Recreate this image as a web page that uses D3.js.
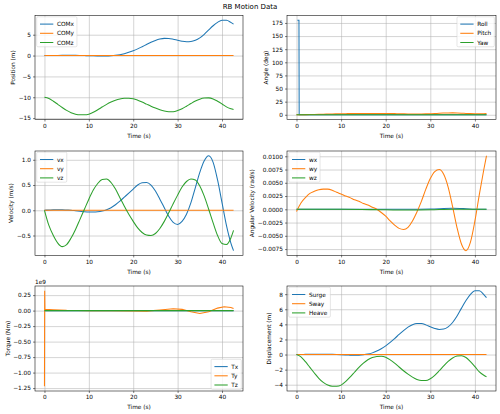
<!DOCTYPE html>
<html>
<head>
<meta charset="utf-8">
<script src="https://cdn.jsdelivr.net/npm/d3@7"></script>
<style>
  body { margin: 0; background: #fff; }
  svg { display: block; font-family: "DejaVu Sans", sans-serif; }
</style>
</head>
<body>
<div id="chart"></div>
<script>
// time samples (s)
const time = [0,1,2,3,4,5,6,7,8,9,10,11,12,13,14,15,16,17,18,19,20,21,22,23,24,25,26,27,28,29,30,31,32,33,34,35,36,37,38,39,40,41,42,42.6];
const tFlat = [0, 42.6];
const flat = [0, 0];
const xTicks = [0, 10, 20, 30, 40];

// Position (m)
const comX = [0,0.01,0.02,0.03,0.04,0.05,0.05,0.04,0.02,0,-0.03,-0.06,-0.08,-0.09,-0.08,-0.03,0.06,0.22,0.46,0.77,1.15,1.6,2.12,2.66,3.18,3.63,3.96,4.12,4.1,3.93,3.68,3.45,3.33,3.38,3.67,4.25,5.1,6.15,7.15,7.97,8.45,8.45,7.95,7.55];
const comZ = [-10,-10.3,-10.95,-11.7,-12.45,-13.15,-13.7,-14.05,-14.2,-14.2,-14.05,-13.6,-13.0,-12.35,-11.7,-11.15,-10.7,-10.4,-10.25,-10.22,-10.35,-10.7,-11.15,-11.65,-12.15,-12.6,-13.0,-13.3,-13.45,-13.45,-13.2,-12.75,-12.15,-11.5,-10.9,-10.45,-10.2,-10.15,-10.4,-10.95,-11.6,-12.3,-12.75,-12.95];
const positionTicks = [-15, -10, -5, 0, 5];

// Angle (deg)
const rollTime = [0.2, 0.55, 0.6, 42.6];
const roll = [180, 180, 0, 0];
const pitch = [0,0.1,0.3,0.5,0.7,0.9,1.1,1.4,1.6,1.8,1.95,2.1,2.2,2.35,2.45,2.5,2.55,2.6,2.6,2.55,2.5,2.4,2.2,2.0,1.8,1.6,1.5,1.45,1.5,1.7,2.0,2.4,2.85,3.25,3.5,3.6,3.45,3.1,2.6,2.2,1.95,1.9,2.1,2.3];
const angleTicks = [0, 25, 50, 75, 100, 125, 150, 175];

// Velocity (m/s)
const vx = [0,0.005,0.01,0.012,0.01,0.005,0,-0.01,-0.02,-0.03,-0.035,-0.035,-0.03,-0.015,0.01,0.05,0.11,0.18,0.26,0.34,0.42,0.5,0.545,0.55,0.5,0.38,0.22,0.05,-0.12,-0.24,-0.28,-0.22,-0.08,0.15,0.45,0.75,0.98,1.08,0.95,0.6,0.15,-0.3,-0.65,-0.8];
const vz = [0,-0.3,-0.5,-0.65,-0.72,-0.68,-0.55,-0.38,-0.18,0.02,0.22,0.4,0.53,0.61,0.62,0.55,0.42,0.25,0.08,-0.08,-0.22,-0.35,-0.44,-0.49,-0.5,-0.46,-0.36,-0.22,-0.05,0.13,0.3,0.46,0.57,0.62,0.6,0.48,0.28,0.02,-0.25,-0.5,-0.66,-0.68,-0.55,-0.4];
const velocityTicks = [-0.5, 0, 0.5, 1.0];

// Angular velocity (rad/s)
const wxTime = [0, 25, 30, 35, 38, 40, 42.6];
const wx = [0, 0, 0.00005, 0.0002, 0.0001, 0, 0];
const wy = [-0.0004,0.0012,0.0022,0.003,0.0034,0.0037,0.0038,0.0038,0.0036,0.0032,0.0029,0.0025,0.0022,0.0018,0.0015,0.0011,0.0008,0.0004,0,-0.0006,-0.0013,-0.0022,-0.003,-0.0036,-0.0038,-0.0034,-0.0022,-0.0005,0.0015,0.0038,0.0058,0.0071,0.0075,0.0066,0.0042,0.0005,-0.0035,-0.0066,-0.0078,-0.0062,-0.0022,0.0028,0.0075,0.0101];
const wzTime = [0, 10, 20, 25, 30, 35, 42.6];
const wz = [0, 0, -0.0001, -0.00015, -0.0001, 0, 0];
const angVelTicks = [-0.0075, -0.005, -0.0025, 0, 0.0025, 0.005, 0.0075, 0.01];

// Torque (Nm)
const tyTime = [0, 0.05, 0.1, 2, 5, 10, 15, 20, 23, 26, 29, 31, 33, 35, 37, 39, 40.5, 42, 42.6];
const ty = [-1.22e9, 0.32e9, 0.02e9, 0.015e9, 0.005e9, 0, -0.002e9, -0.005e9, -0.008e9, 0.01e9, 0.03e9, 0.02e9, -0.02e9, -0.045e9, -0.02e9, 0.04e9, 0.062e9, 0.05e9, 0.035e9];
const torqueTicks = [-1.25e9, -1e9, -0.75e9, -0.5e9, -0.25e9, 0, 0.25e9];

// Displacement (m)
const surge = [0,0.01,0.02,0.03,0.04,0.05,0.05,0.04,0.02,0,-0.03,-0.06,-0.08,-0.09,-0.08,-0.03,0.06,0.22,0.46,0.77,1.15,1.6,2.12,2.66,3.18,3.63,3.96,4.12,4.1,3.93,3.68,3.45,3.33,3.38,3.67,4.25,5.1,6.15,7.15,7.97,8.45,8.45,7.95,7.55];
const heave = [0,-0.3,-0.95,-1.7,-2.45,-3.15,-3.7,-4.05,-4.2,-4.2,-4.05,-3.6,-3.0,-2.35,-1.7,-1.15,-0.7,-0.4,-0.25,-0.22,-0.35,-0.7,-1.15,-1.65,-2.15,-2.6,-3.0,-3.3,-3.45,-3.45,-3.2,-2.75,-2.15,-1.5,-0.9,-0.45,-0.2,-0.15,-0.4,-0.95,-1.6,-2.3,-2.75,-2.95];
const dispTicks = [-4, -2, 0, 2, 4, 6, 8];

const colors = ["#1f77b4", "#ff7f0e", "#2ca02c"];
const fontSize = 5.8;

const W = 500, H = 414;
const cols = [{ x0: 35, x1: 243 }, { x0: 287, x1: 496 }];
const rows = [{ y0: 15.6, y1: 119.5 }, { y0: 151, y1: 255.4 }, { y0: 286, y1: 391 }];

const svg = d3.select("#chart").append("svg")
  .attr("width", W)
  .attr("height", H)
  .attr("viewBox", `0 0 ${W} ${H}`);

svg.append("text")
  .attr("x", 250).attr("y", 8.6)
  .attr("text-anchor", "middle")
  .attr("font-size", 7)
  .attr("fill", "#000")
  .text("RB Motion Data");

const zip = (xs, ys) => xs.map((x, i) => [x, ys[i]]);

const panels = [
  { col: 0, row: 0, label: "Position (m)", ticks: positionTicks, fmt: d3.format("d"), legend: "ul",
    series: [["COMx", time, comX], ["COMy", tFlat, flat], ["COMz", time, comZ]] },
  { col: 1, row: 0, label: "Angle (deg)", ticks: angleTicks, fmt: d3.format("d"), legend: "ur",
    series: [["Roll", rollTime, roll, true], ["Pitch", time, pitch], ["Yaw", tFlat, flat]] },
  { col: 0, row: 1, label: "Velocity (m/s)", ticks: velocityTicks, fmt: d3.format(".1f"), legend: "ul",
    series: [["vx", time, vx], ["vy", tFlat, flat], ["vz", time, vz]] },
  { col: 1, row: 1, label: "Angular Velocity (rad/s)", ticks: angVelTicks, fmt: d3.format(".4f"), legend: "ul",
    series: [["wx", wxTime, wx], ["wy", time, wy], ["wz", wzTime, wz]] },
  { col: 0, row: 2, label: "Torque (Nm)", ticks: torqueTicks, fmt: d => d3.format(".2f")(d / 1e9), legend: "lr", offset: "1e9",
    series: [["Tx", tFlat, flat], ["Ty", tyTime, ty, true], ["Tz", tFlat, flat]] },
  { col: 1, row: 2, label: "Displacement (m)", ticks: dispTicks, fmt: d3.format("d"), legend: "ul",
    series: [["Surge", time, surge], ["Sway", tFlat, flat], ["Heave", time, heave]] }
];

panels.forEach((p, idx) => {
  const { x0, x1 } = cols[p.col];
  const { y0, y1 } = rows[p.row];
  const w = x1 - x0, h = y1 - y0;

  // matplotlib style 5% margins
  const allX = p.series.flatMap(s => s[1]);
  const allY = p.series.flatMap(s => s[2]);
  const [xa, xb] = d3.extent(allX);
  const [ya, yb] = d3.extent(allY);
  const x = d3.scaleLinear().domain([xa - 0.05 * (xb - xa), xb + 0.05 * (xb - xa)]).range([0, w]);
  const y = d3.scaleLinear().domain([ya - 0.05 * (yb - ya), yb + 0.05 * (yb - ya)]).range([h, 0]);

  const g = svg.append("g").attr("transform", `translate(${x0},${y0})`);

  // grid
  const gx = g.append("g").attr("transform", `translate(0,${h})`)
    .call(d3.axisBottom(x).tickValues(xTicks).tickSize(-h).tickFormat(""));
  const gy = g.append("g")
    .call(d3.axisLeft(y).tickValues(p.ticks).tickSize(-w).tickFormat(""));
  [gx, gy].forEach(a => {
    a.select(".domain").remove();
    a.selectAll("line").attr("stroke", "#b0b0b0").attr("stroke-width", 0.55);
  });

  // lines
  const clipId = "clip" + idx;
  g.append("clipPath").attr("id", clipId)
    .append("rect").attr("width", w).attr("height", h);
  const plot = g.append("g").attr("clip-path", `url(#${clipId})`);
  p.series.forEach((s, i) => {
    const line = d3.line()
      .x(d => x(d[0]))
      .y(d => y(d[1]))
      .curve(s[3] ? d3.curveLinear : d3.curveMonotoneX);
    plot.append("path")
      .datum(zip(s[1], s[2]))
      .attr("d", line)
      .attr("fill", "none")
      .attr("stroke", colors[i])
      .attr("stroke-width", 1.05);
  });

  // axes
  const ax = g.append("g").attr("transform", `translate(0,${h})`)
    .call(d3.axisBottom(x).tickValues(xTicks).tickSize(2).tickPadding(2.2).tickFormat(d3.format("d")));
  const ay = g.append("g")
    .call(d3.axisLeft(y).tickValues(p.ticks).tickSize(2).tickPadding(2).tickFormat(p.fmt));
  [ax, ay].forEach(a => {
    a.select(".domain").remove();
    a.selectAll("line").attr("stroke", "#000").attr("stroke-width", 0.5);
    a.selectAll("text").attr("font-size", fontSize).attr("font-family", "DejaVu Sans").attr("fill", "#000");
  });

  g.append("rect")
    .attr("width", w).attr("height", h)
    .attr("fill", "none")
    .attr("stroke", "#000")
    .attr("stroke-width", 0.55);

  // axis labels
  g.append("text")
    .attr("x", w / 2).attr("y", h + 18.2)
    .attr("text-anchor", "middle")
    .attr("font-size", fontSize)
    .text("Time (s)");

  let maxW = 0;
  ay.selectAll("text").each(function () { maxW = Math.max(maxW, this.getComputedTextLength()); });
  g.append("text")
    .attr("transform", `translate(${-4 - maxW - 3.6},${h / 2}) rotate(-90)`)
    .attr("text-anchor", "middle")
    .attr("font-size", fontSize)
    .text(p.label);

  if (p.offset) {
    g.append("text")
      .attr("x", 0).attr("y", -1.8)
      .attr("font-size", fontSize)
      .text(p.offset);
  }

  // legend
  const lg = g.append("g");
  const box = lg.append("rect")
    .attr("fill", "#fff").attr("fill-opacity", 0.8)
    .attr("stroke", "#ccc").attr("stroke-width", 0.5)
    .attr("rx", 1.2);
  let tw = 0;
  p.series.forEach((s, i) => {
    const cy = 7.3 + i * 9.2;
    lg.append("line")
      .attr("x1", 3.3).attr("x2", 16.6)
      .attr("y1", cy).attr("y2", cy)
      .attr("stroke", colors[i]).attr("stroke-width", 1.05);
    const t = lg.append("text")
      .attr("x", 20.2).attr("y", cy).attr("dy", "0.35em")
      .attr("font-size", fontSize)
      .text(s[0]);
    tw = Math.max(tw, t.node().getComputedTextLength());
  });
  const bw = 20.2 + tw + 3, bh = 30;
  box.attr("width", bw).attr("height", bh);
  let lx = 1.7, ly = 1.2;
  if (p.legend === "ur") lx = w - bw - 1.7;
  if (p.legend === "lr") { lx = w - bw - 1.7; ly = h - bh - 1.7; }
  lg.attr("transform", `translate(${lx},${ly})`);
});
</script>
</body>
</html>
